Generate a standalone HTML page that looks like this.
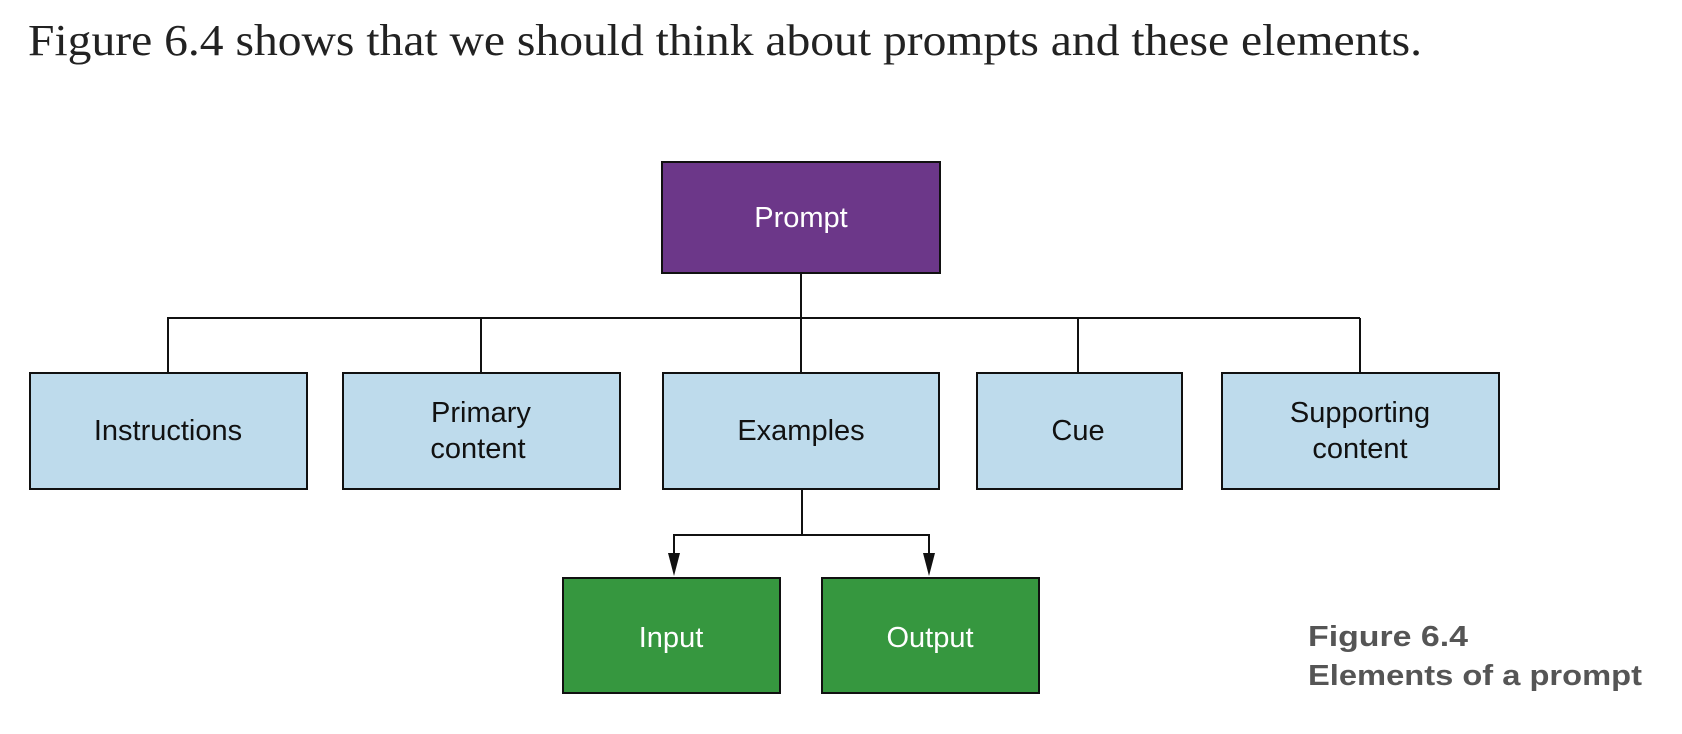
<!DOCTYPE html>
<html><head><style>
html,body{margin:0;padding:0;background:#fff;}
svg{display:block;}
</style></head><body>
<svg width="1682" height="734" viewBox="0 0 1682 734" xmlns="http://www.w3.org/2000/svg">
<text x="28" y="55" font-family="Liberation Serif, serif" font-size="44" fill="#222" textLength="1394" lengthAdjust="spacingAndGlyphs">Figure 6.4 shows that we should think about prompts and these elements.</text>
<g stroke="#111" stroke-width="2" fill="none">
<line x1="801" y1="273" x2="801" y2="373"/>
<line x1="167" y1="318" x2="1360" y2="318"/>
<line x1="168" y1="318" x2="168" y2="373"/>
<line x1="481" y1="318" x2="481" y2="373"/>
<line x1="1078" y1="318" x2="1078" y2="373"/>
<line x1="1360" y1="318" x2="1360" y2="373"/>
<line x1="802" y1="489" x2="802" y2="535"/>
<polyline points="674,565 674,535 929,535 929,565"/>
</g>
<polygon points="668,553 680,553 674,576" fill="#111"/>
<polygon points="923,553 935,553 929,576" fill="#111"/>
<g stroke="#111" stroke-width="2">
<rect x="662" y="162" width="278" height="111" fill="#6c3789"/>
<rect x="30" y="373" width="277" height="116" fill="#bedbec"/>
<rect x="343" y="373" width="277" height="116" fill="#bedbec"/>
<rect x="663" y="373" width="276" height="116" fill="#bedbec"/>
<rect x="977" y="373" width="205" height="116" fill="#bedbec"/>
<rect x="1222" y="373" width="277" height="116" fill="#bedbec"/>
<rect x="563" y="578" width="217" height="115" fill="#36973f"/>
<rect x="822" y="578" width="217" height="115" fill="#36973f"/>
</g>
<g font-family="Liberation Sans, Arial, sans-serif" font-size="29" text-anchor="middle">
<text x="801" y="227" fill="#fff">Prompt</text>
<text x="168" y="440" fill="#111">Instructions</text>
<text x="481" y="422" fill="#111">Primary</text>
<text x="478" y="458" fill="#111">content</text>
<text x="801" y="440" fill="#111">Examples</text>
<text x="1078" y="440" fill="#111">Cue</text>
<text x="1360" y="422" fill="#111">Supporting</text>
<text x="1360" y="458" fill="#111">content</text>
<text x="671" y="647" fill="#fff">Input</text>
<text x="930" y="647" fill="#fff">Output</text>
</g>
<g font-family="Liberation Sans, Arial, sans-serif" font-size="29" font-weight="bold" fill="#555">
<text x="1308" y="646" textLength="160" lengthAdjust="spacingAndGlyphs">Figure 6.4</text>
<text x="1308" y="685" textLength="334" lengthAdjust="spacingAndGlyphs">Elements of a prompt</text>
</g>
</svg>
</body></html>
